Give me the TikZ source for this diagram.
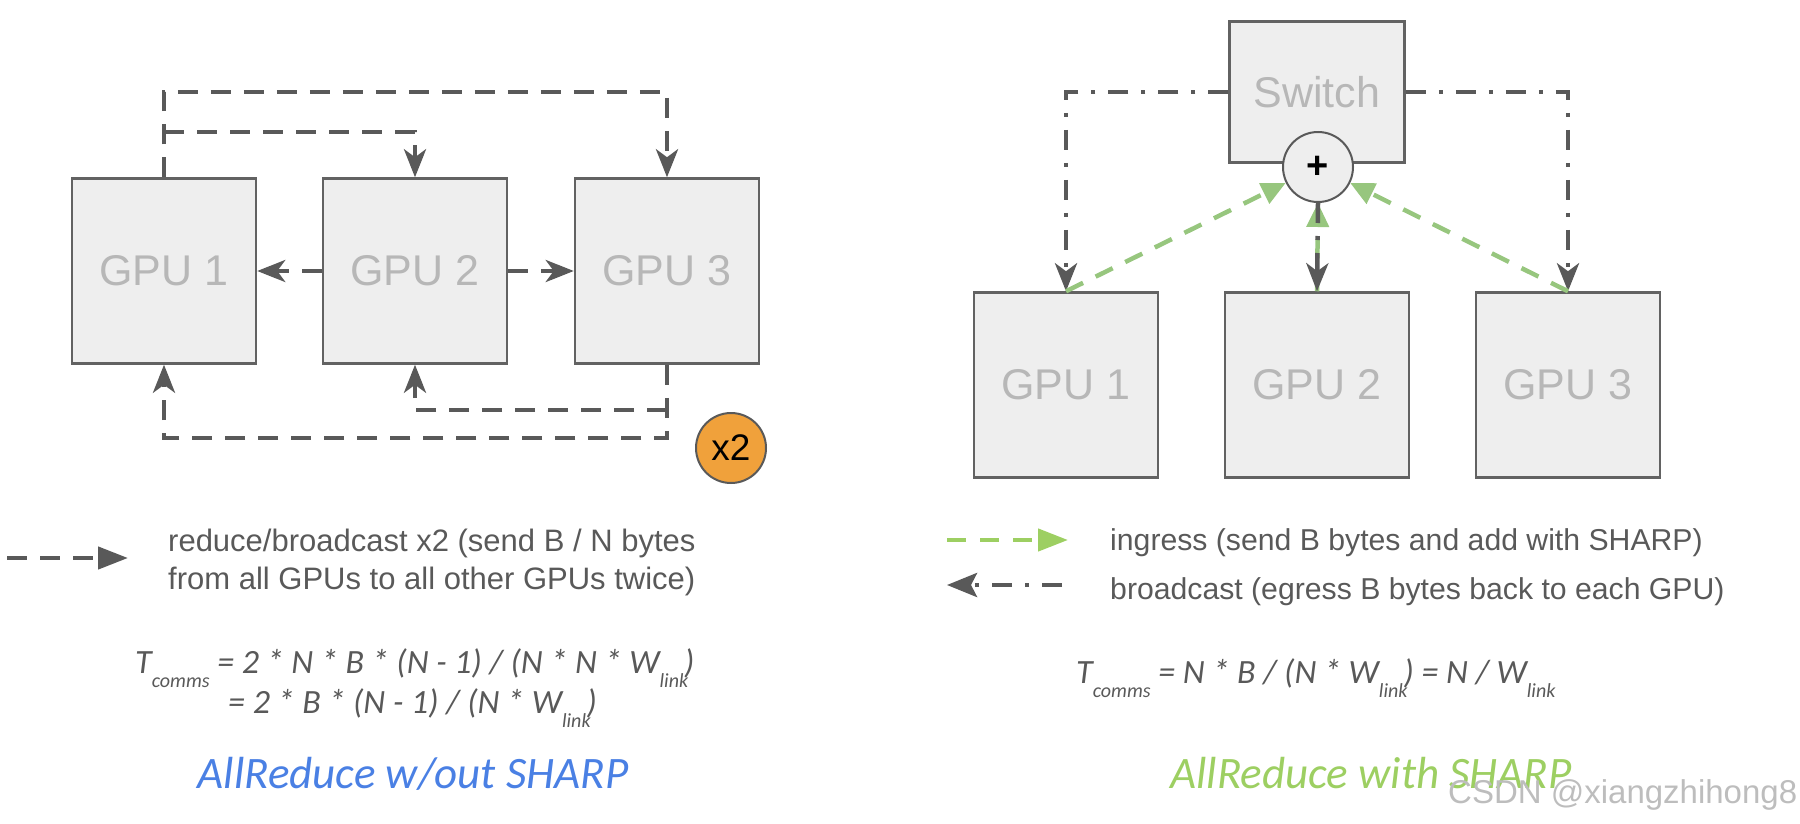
\documentclass[tikz,border=0pt]{standalone}
\usepackage{fontspec}
\setmainfont{Liberation Sans}
\newfontfamily\carl{Carlito}
\usetikzlibrary{arrows.meta}
\definecolor{dk}{HTML}{595959}
\definecolor{boxfill}{HTML}{EEEEEE}
\definecolor{boxdraw}{HTML}{626262}
\definecolor{gputext}{HTML}{B7B7B7}
\definecolor{grn}{HTML}{97C67E}
\definecolor{grnleg}{HTML}{9DCF62}
\definecolor{blu}{HTML}{4A80E4}
\definecolor{orng}{HTML}{F0A13B}
\definecolor{wmk}{HTML}{BDBDBD}
\newcommand{\lowsub}[1]{\raisebox{-14bp}{\fontsize{20bp}{24bp}\selectfont #1}}
\begin{document}
\begin{tikzpicture}[x=1bp,y=-1bp,
  gpubox/.style={draw=boxdraw, fill=boxfill, line width=2.5bp, minimum width=184bp, minimum height=185bp, inner sep=0pt, text=gputext, font=\fontsize{43bp}{50bp}\selectfont},
  dkline/.style={draw=dk, line width=4.5bp, dash pattern=on 20bp off 13bp},
  dkdot/.style={draw=dk, line width=4.5bp, dash pattern=on 20bp off 13bp on 4bp off 13bp},
  grline/.style={draw=grn, line width=4.5bp, dash pattern=on 19bp off 14bp},
  stl/.style={-{Stealth[length=28bp,width=22bp,inset=8bp]}},
  tri/.style={-{Triangle[length=24bp,width=22bp]}},
  legtext/.style={text=dk, font=\fontsize{31bp}{38bp}\selectfont, align=left, inner sep=0pt},
  legtextr/.style={text=dk, font=\fontsize{30.2bp}{36bp}\selectfont, align=left, inner sep=0pt},
  formula/.style={text=dk, font=\carl\itshape\fontsize{34bp}{40bp}\selectfont, inner sep=0pt},
  title/.style={font=\carl\itshape\fontsize{45bp}{54bp}\selectfont, inner sep=0pt, anchor=base}
]
\useasboundingbox (0,0) rectangle (1800,824);

% ---------------- left panel ----------------
\node[gpubox] (g1) at (164,271) {GPU 1};
\node[gpubox] (g2) at (415,271) {GPU 2};
\node[gpubox] (g3) at (667,271) {GPU 3};

\coordinate (t1) at (0,92);
\coordinate (t2) at (0,132);
\coordinate (b1) at (0,410);
\coordinate (b2) at (0,438);

\draw[dkline, stl] (g1.north) -- (g1.north |- t1) -| (g3.north);
\draw[dkline, stl] (g1.north |- t2) -| (g2.north);
\draw[dkline, stl] (g3.south) -- (g3.south |- b2) -| (g1.south);
\draw[dkline, stl] (g3.south |- b1) -| (g2.south);
\draw[dkline, stl] (g2.west) -- (g1.east);
\draw[dkline, stl] (g2.east) -- (g3.west);

\node[circle, draw=dk, line width=2bp, fill=orng, minimum size=70bp, inner sep=0pt,
      font=\fontsize{37bp}{44bp}\selectfont] (x2) at (731,448) {x2};

% legend left
\coordinate (la) at (7,558);
\coordinate (lb) at (128,558);
\draw[dkline, -{Triangle[length=30bp,width=22bp]}] (la) -- (lb);
\node[legtext, anchor=west] (lt) at (168,562) {reduce/broadcast x2 (send B / N bytes\\from all GPUs to all other GPUs twice)};

% formula left
\node[formula, anchor=base west] (f1) at (135,673) {T\lowsub{comms} = 2 * N * B * (N - 1) / (N * N * W\lowsub{link}\kern-4bp)};
\node[formula, anchor=base west] (f2) at (228,713) {= 2 * B * (N - 1) / (N * W\lowsub{link}\kern-4bp)};

\node[title, text=blu] (tl) at (413,788) {AllReduce w/out SHARP};

% ---------------- right panel ----------------
\node[draw=boxdraw, fill=boxfill, line width=2.5bp, minimum width=175bp, minimum height=141bp, inner sep=0pt] (sw) at (1317,92) {};
\node[text=gputext, font=\fontsize{43bp}{50bp}\selectfont] (swl) at (1317,92) {Switch};
\node[circle, draw=dk, line width=2bp, fill=boxfill, minimum size=70bp, inner sep=0pt,
      font=\bfseries\fontsize{38bp}{46bp}\selectfont] (plus) at (1318,167) {+};

\node[gpubox] (r1) at (1066,385) {GPU 1};
\node[gpubox] (r2) at (1317,385) {GPU 2};
\node[gpubox] (r3) at (1568,385) {GPU 3};

\draw[dkdot, stl] (sw.west) -| (r1.north);
\draw[dkdot, stl] (sw.east) -| (r3.north);

\draw[grline, tri] (r1.north) -- (plus);
\draw[grline, tri] (r3.north) -- (plus);
\draw[grline, tri] (r2.north) -- (plus.south);
\draw[dkdot, stl] (plus.south) -- (r2.north);

% legend right
\coordinate (ra) at (947,540);
\coordinate (rb) at (1068,540);
\coordinate (rc) at (1062,585);
\coordinate (rd) at (947,585);
\draw[grline, draw=grnleg, -{Triangle[length=30bp,width=22bp,fill=grnleg]}] (ra) -- (rb);
\draw[dkdot, -{Stealth[length=30bp,width=24bp,inset=6bp]}] (rc) -- (rd);
\node[legtextr, anchor=west] (rt1) at (1110,543) {ingress (send B bytes and add with SHARP)};
\node[legtextr, anchor=west] (rt2) at (1110,592) {broadcast (egress B bytes back to each GPU)};

% formula right
\node[formula, anchor=base west] (f3) at (1076,683) {T\lowsub{comms} = N * B / (N * W\lowsub{link}\kern-4bp) = N / W\lowsub{link}};

\node[title, text=grnleg] (tr) at (1371,788) {AllReduce with SHARP};

\node[anchor=west, text=wmk, font=\fontsize{33bp}{40bp}\selectfont, inner sep=0pt] (wm) at (1448,795) {CSDN @xiangzhihong8};
\end{tikzpicture}
\end{document}
